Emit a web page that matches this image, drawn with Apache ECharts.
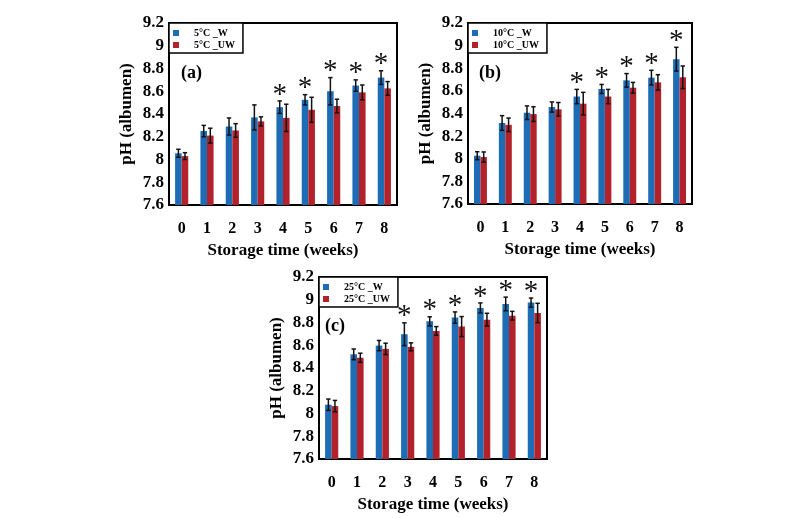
<!DOCTYPE html>
<html><head><meta charset="utf-8">
<script src="https://cdn.jsdelivr.net/npm/echarts@6/dist/echarts.min.js"></script>
<style>html,body{margin:0;padding:0;background:#fff}#c{width:800px;height:518px}</style>
</head><body><div id="c"></div>
<script>
const weeks = ['0','1','2','3','4','5','6','7','8'];

const aW     = [8.055, 8.25, 8.29, 8.37, 8.46, 8.525, 8.60, 8.65, 8.72];
const aWErr  = [0.035, 0.05, 0.075, 0.11, 0.055, 0.045, 0.12, 0.05, 0.06];
const aUW    = [8.03, 8.21, 8.255, 8.335, 8.366, 8.437, 8.47, 8.59, 8.625];
const aUWErr = [0.03, 0.065, 0.06, 0.04, 0.12, 0.11, 0.06, 0.065, 0.06];
const aSig   = [4, 5, 6, 7, 8];

const bW     = [8.027, 8.316, 8.407, 8.457, 8.55, 8.617, 8.693, 8.717, 8.88];
const bWErr  = [0.035, 0.065, 0.06, 0.045, 0.063, 0.04, 0.06, 0.065, 0.105];
const bUW    = [8.015, 8.30, 8.395, 8.437, 8.487, 8.55, 8.628, 8.675, 8.72];
const bUWErr = [0.045, 0.06, 0.065, 0.06, 0.10, 0.063, 0.047, 0.068, 0.10];
const bSig   = [4, 5, 6, 7, 8];

const cW     = [8.077, 8.52, 8.597, 8.697, 8.81, 8.843, 8.928, 8.963, 8.975];
const cWErr  = [0.05, 0.047, 0.045, 0.10, 0.04, 0.05, 0.044, 0.06, 0.04];
const cUW    = [8.065, 8.49, 8.568, 8.586, 8.726, 8.764, 8.825, 8.86, 8.884];
const cUWErr = [0.05, 0.04, 0.05, 0.035, 0.038, 0.088, 0.056, 0.038, 0.085];
const cSig   = [3, 4, 5, 6, 7, 8];

const legendNames = [['5°C _W','5°C _UW'],['10°C _W','10°C _UW'],['25°C _W','25°C _UW']];
const panelLabels = ['(a)','(b)','(c)'];
const yTitle = 'pH (albumen)';
const xTitle = 'Storage time (weeks)';

const FONT = '"Liberation Serif","Times New Roman",serif';
const BLUE = '#1d6db6';
const RED = '#b3212a';
const BW = 0.26;

const panels = [
  {W:aW, WE:aWErr, U:aUW, UE:aUWErr, sig:aSig, grid:{left:169, top:23, width:228, height:182}, lab:[181,64]},
  {W:bW, WE:bWErr, U:bUW, UE:bUWErr, sig:bSig, grid:{left:468, top:23, width:224, height:181}, lab:[479,64]},
  {W:cW, WE:cWErr, U:cUW, UE:cUWErr, sig:cSig, grid:{left:319, top:277, width:228, height:182}, lab:[325,317]}
];

const grid = [], xAxis = [], yAxis = [], series = [], legend = [], graphic = [];

function errRender(params, api) {
  const x = api.value(0), m = api.value(1), e = api.value(2), side = api.value(3);
  const band = api.size([1, 0])[0];
  const w = band * BW;
  const top = api.coord([x, m + e]);
  const bot = api.coord([x, m - e]);
  const cx = top[0] + side * w / 2;
  const cap = 2.2;
  const st = {stroke:'#111', lineWidth:1.5};
  return {type:'group', children:[
    {type:'line', shape:{x1:cx, y1:top[1], x2:cx, y2:bot[1]}, style:st},
    {type:'line', shape:{x1:cx-cap, y1:top[1], x2:cx+cap, y2:top[1]}, style:st},
    {type:'line', shape:{x1:cx-cap, y1:bot[1], x2:cx+cap, y2:bot[1]}, style:st}
  ]};
}
function starRender(params, api) {
  const x = api.value(0), t = api.value(1);
  const band = api.size([1, 0])[0];
  const w = band * BW;
  const p = api.coord([x, t]);
  return {type:'text', x: p[0] - w / 2, y: p[1] - 6,
    style:{text:'*', font:'29px ' + FONT, fill:'#111', align:'center', verticalAlign:'middle'}};
}

panels.forEach((p, k) => {
  grid.push(Object.assign({show:true, borderColor:'#000', borderWidth:2, backgroundColor:'transparent'}, p.grid));
  xAxis.push({type:'category', gridIndex:k, data:weeks,
    axisLine:{show:false}, axisTick:{show:false}, splitLine:{show:false},
    axisLabel:{color:'#000', fontFamily:FONT, fontWeight:'bold', fontSize:16, margin:16},
    name:xTitle, nameLocation:'middle', nameGap:37,
    nameTextStyle:{color:'#000', fontFamily:FONT, fontWeight:'bold', fontSize:17}});
  yAxis.push({type:'value', gridIndex:k, min:7.6, max:9.2, interval:0.2,
    axisLine:{show:false}, axisTick:{show:false}, splitLine:{show:false},
    axisLabel:{color:'#000', fontFamily:FONT, fontWeight:'bold', fontSize:17, margin:5},
    name:yTitle, nameLocation:'middle', nameGap:34,
    nameTextStyle:{color:'#000', fontFamily:FONT, fontWeight:'bold', fontSize:17}});
  series.push({type:'bar', name:legendNames[k][0], xAxisIndex:k, yAxisIndex:k, data:p.W,
    barWidth:(BW*100)+'%', barGap:'0%', itemStyle:{color:BLUE}, animation:false});
  series.push({type:'bar', name:legendNames[k][1], xAxisIndex:k, yAxisIndex:k, data:p.U,
    barWidth:(BW*100)+'%', barGap:'0%', itemStyle:{color:RED}, animation:false});
  const ed = [];
  weeks.forEach((w, i) => { ed.push([i, p.W[i], p.WE[i], -1]); ed.push([i, p.U[i], p.UE[i], 1]); });
  series.push({type:'custom', xAxisIndex:k, yAxisIndex:k, data:ed, renderItem:errRender,
    encode:{x:0, y:1}, z:5, animation:false, clip:false});
  series.push({type:'custom', xAxisIndex:k, yAxisIndex:k,
    data:p.sig.map(i => [i, p.W[i] + p.WE[i]]), renderItem:starRender,
    encode:{x:0, y:1}, z:5, animation:false, clip:false});
  legend.push({data:legendNames[k], left:p.grid.left, top:p.grid.top, orient:'vertical',
    backgroundColor:'#fff', borderColor:'#000', borderWidth:1.5, padding:[5,8,3,4],
    itemGap:2, itemWidth:6, itemHeight:6, icon:'rect', selectedMode:false,
    textStyle:{color:'#000', fontFamily:FONT, fontWeight:'bold', fontSize:10, padding:[0,0,0,10]}});
  graphic.push({type:'text', left:p.lab[0], top:p.lab[1], z:10,
    style:{text:panelLabels[k], font:'bold 18px ' + FONT, fill:'#000'}});
});

const chart = echarts.init(document.getElementById('c'), null, {renderer:'canvas'});
chart.setOption({backgroundColor:'#fff', animation:false, grid, xAxis, yAxis, series, legend, graphic});
</script></body></html>
